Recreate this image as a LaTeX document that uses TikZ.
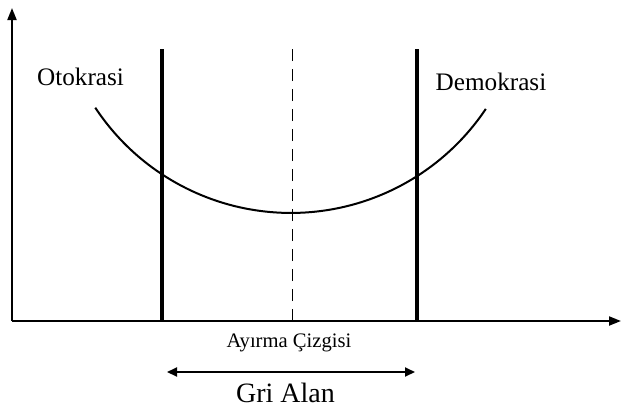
\documentclass[tikz,border=0pt]{standalone}
\usepackage{fontspec}
\setmainfont{Liberation Serif}
\usetikzlibrary{arrows.meta}
\tikzset{
axis line/.style={line width=1pt,-{Triangle[length=6pt,width=4.5pt]}},
border line/.style={line width=2pt},
middle line/.style={line width=0.5pt,dash pattern=on 6pt off 4pt},
curve line/.style={line width=1pt},
%
%
regime text/.style={font=\fontsize{12.6}{15}\selectfont,anchor=base},
small text/.style={font=\fontsize{10.3}{12}\selectfont,anchor=base},
big text/.style={font=\fontsize{14}{17}\selectfont,anchor=base},
gray arrow/.style={line width=1pt,{Triangle[length=5pt,width=4.5pt]}-{Triangle[length=5pt,width=4.5pt]}},
}

\begin{document}
\begin{tikzpicture}[x=0.5pt,y=0.5pt]
        \useasboundingbox (0,0) rectangle (622,409);
        \coordinate (o) at (12,88);
        \coordinate (ytop) at (12,401);
        \coordinate (xend) at (621,88);
        \draw[axis line] (o) -- (ytop);
        \draw[axis line] (o) -- (xend);
        \foreach \x/\n in {162/l,417/r}  {
            \coordinate (b\n) at (\x,88);
            \coordinate (t\n) at (\x,360);
            \draw[border line] (b\n) -- (t\n);
        }
        \coordinate (bm) at (292,88);
        \coordinate (tm) at (292,360);
        \draw[middle line] (bm) -- (tm);
        \draw[curve line] (95.3,301.3) arc[start angle=213.45, end angle=326.2, radius=234.5];
        \node[regime text] (oto) at (80.5,324) {Otokrasi};
        \node[regime text] (demo) at (491,319) {Demokrasi};
        \node[small text] (ayirma) at (289,62) {Ayırma Çizgisi};
        \coordinate (gl) at (167,37);
        \coordinate (gr) at (415,37);
        \draw[gray arrow] (gl) -- (gr);
        \node[big text] (gri) at (285.5,7) {Gri Alan};
    \end{tikzpicture}
\end{document}
